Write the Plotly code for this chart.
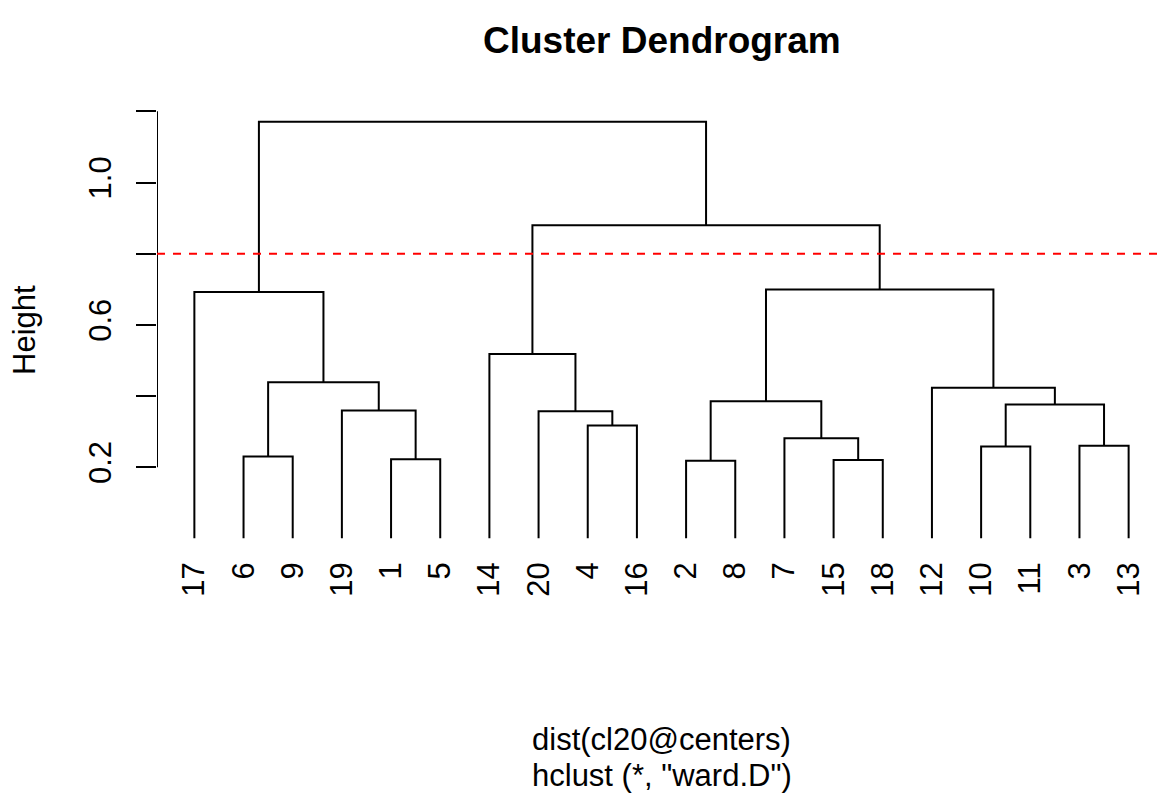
import plotly.graph_objects as go

# ---- data ----
leaf_order = ["17", "6", "9", "19", "1", "5", "14", "20", "4", "16",
              "2", "8", "7", "15", "18", "12", "10", "11", "3", "13"]
# merges (R hclust style): negative = leaf label, positive = earlier merge step
merge_left = [-2, -15, -1, -6, -10, -3, -7, -4, -20, -19, 5, 1, -12, 4, -14, -17, 12, 15, 16]
merge_right = [-8, -18, -5, -9, -11, -13, 2, -16, 8, 3, 6, 7, 11, 10, 9, 14, 13, 17, 18]
merge_height = [0.218, 0.220, 0.222, 0.230, 0.258, 0.260, 0.281, 0.317, 0.357, 0.359,
                0.376, 0.385, 0.423, 0.439, 0.518, 0.692, 0.699, 0.880, 1.171]
cut_height = 0.8
y_tick_vals = [0.2, 0.4, 0.6, 0.8, 1.0, 1.2]
y_tick_text = ["0.2", "", "0.6", "", "1.0", ""]
title_text = "Cluster Dendrogram"
xlab_text = "dist(cl20@centers)"
sub_text = 'hclust (*, "ward.D")'
ylab_text = "Height"

# ---- build dendrogram segments ----
leaf_pos = {int(lab): i + 1 for i, lab in enumerate(leaf_order)}
node_x, node_h = {}, {}


def info(n):
    if n < 0:
        return leaf_pos[-n], 0.0
    return node_x[n], node_h[n]


xs, ys = [], []
for k, (a, b, h) in enumerate(zip(merge_left, merge_right, merge_height), start=1):
    xa, ha = info(a)
    xb, hb = info(b)
    xs += [xa, xa, xb, xb, None]
    ys += [ha, h, h, hb, None]
    node_x[k] = (xa + xb) / 2
    node_h[k] = h

n = len(leaf_order)
x_lo, x_hi = 1 - 0.04 * (n - 1), n + 0.04 * (n - 1)
hmax = max(merge_height)
y_lo, y_hi = -0.04 * hmax, hmax * 1.04

FONT = "Liberation Sans, Arial, Helvetica, sans-serif"

# page body has an 8px default margin; compensate so plot sits where the reference has it
PLOT_W, PLOT_H = 1009, 450
PLOT_LEFT, PLOT_BOTTOM = 157, 555  # page pixels

fig = go.Figure()
fig.add_trace(go.Scatter(x=xs, y=ys, mode="lines",
                         line=dict(color="black", width=2),
                         hoverinfo="skip", showlegend=False))
# y axis line (spans tick range only, like base R)
fig.add_trace(go.Scatter(x=[x_lo, x_lo], y=[y_tick_vals[0], y_tick_vals[-1]], mode="lines",
                         line=dict(color="black", width=2), cliponaxis=False,
                         hoverinfo="skip", showlegend=False))
# cut line
fig.add_trace(go.Scatter(x=[x_lo, x_hi], y=[cut_height, cut_height], mode="lines",
                         line=dict(color="#FF0000", width=2, dash="8px,8px"),
                         hoverinfo="skip", showlegend=False))


def py(pix):
    return (PLOT_BOTTOM - pix) / PLOT_H


fig.update_layout(
    width=1162, height=799,
    margin=dict(l=149, r=4, t=97, b=252),
    paper_bgcolor="white", plot_bgcolor="white",
    font=dict(family=FONT, size=31, color="black"),
    showlegend=False,
    xaxis=dict(range=[x_lo, x_hi], tickvals=list(range(1, n + 1)), ticktext=leaf_order,
               tickangle=-90, ticks="", showline=False, showgrid=False, zeroline=False,
               tickfont=dict(size=31), ticklabelstandoff=0),
    yaxis=dict(range=[y_lo, y_hi], tickvals=y_tick_vals, ticktext=y_tick_text,
               tickangle=-90, ticks="outside", ticklen=20, tickwidth=2, tickcolor="black",
               showline=False, showgrid=False, zeroline=False, tickfont=dict(size=31),
               ticklabelstandoff=13),
    annotations=[
        dict(text="<b>" + title_text + "</b>", xref="paper", yref="paper", x=0.5,
             y=py(40), xanchor="center", yanchor="middle", showarrow=False,
             font=dict(size=37, family=FONT)),
        dict(text=xlab_text, xref="paper", yref="paper", x=0.5, y=py(740),
             xanchor="center", yanchor="middle", showarrow=False, font=dict(size=31)),
        dict(text=sub_text, xref="paper", yref="paper", x=0.5, y=py(775),
             xanchor="center", yanchor="middle", showarrow=False, font=dict(size=31)),
        dict(text=ylab_text, xref="paper", yref="paper", x=(24 - PLOT_LEFT) / PLOT_W, y=0.5,
             xanchor="center", yanchor="middle", textangle=-90, showarrow=False,
             font=dict(size=31)),
    ],
)

fig.write_html("out.html")
